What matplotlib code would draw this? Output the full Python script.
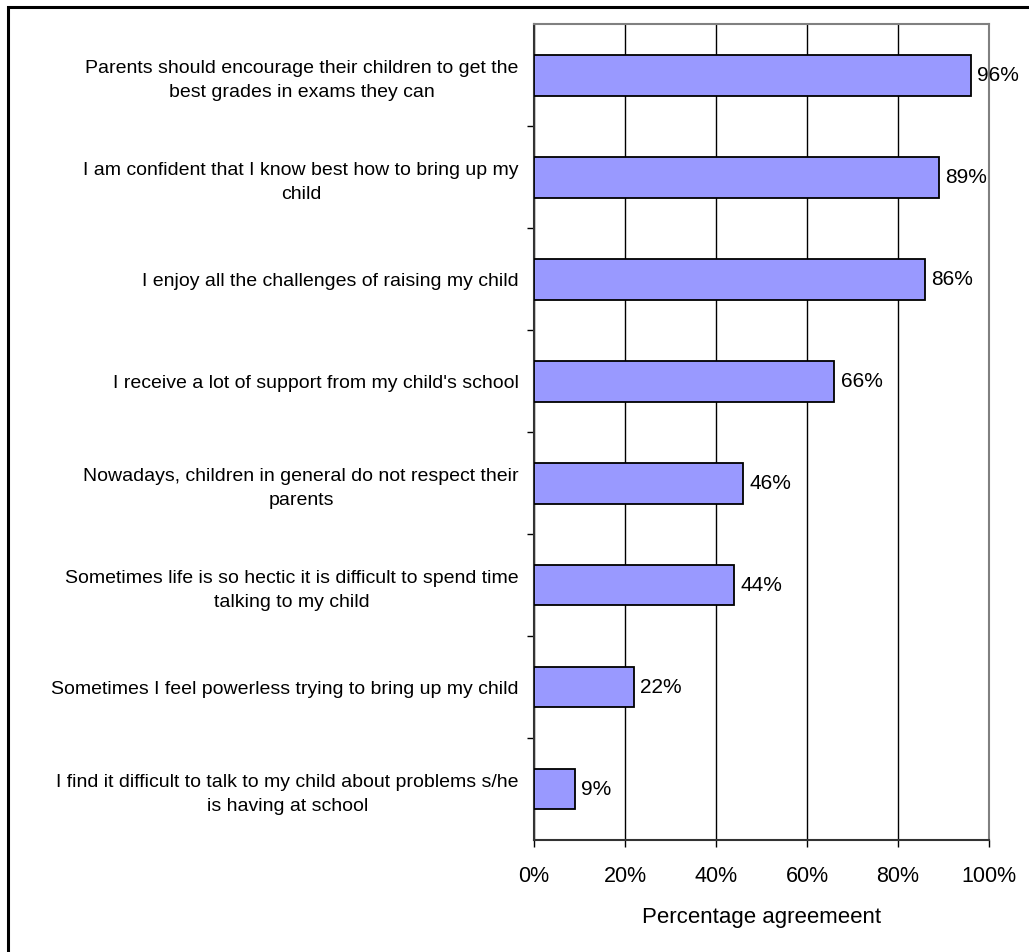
import matplotlib.pyplot as plt
from matplotlib.patches import Rectangle
from matplotlib.ticker import FixedLocator, PercentFormatter

plt.rcParams['font.family'] = ['Liberation Sans', 'DejaVu Sans']

statements = [
    "Parents should encourage their children to get the\nbest grades in exams they can",
    "I am confident that I know best how to bring up my\nchild",
    "I enjoy all the challenges of raising my child",
    "I receive a lot of support from my child's school",
    "Nowadays, children in general do not respect their\nparents",
    "Sometimes life is so hectic it is difficult to spend time\ntalking to my child",
    "Sometimes I feel powerless trying to bring up my child",
    "I find it difficult to talk to my child about problems s/he\nis having at school",
]
agree_pct = [96, 89, 86, 66, 46, 44, 22, 9]

bar_color = '#9999FF'

fig = plt.figure(figsize=(10.29, 9.52), dpi=100)
ax = fig.add_axes([0.519, 0.1176, 0.442, 0.857])

ypos = list(range(len(statements)))
ax.barh(ypos, agree_pct, height=0.4, color=bar_color, edgecolor='black',
        linewidth=1.3, zorder=3)
for y, v in zip(ypos, agree_pct):
    ax.text(v + 1.4, y, f"{v}%", va='center', ha='left', fontsize=15, zorder=4)

ax.set_xlim(0, 100)
ax.set_ylim(len(statements) - 0.5, -0.5)
ax.set_xticks([0, 20, 40, 60, 80, 100])
ax.xaxis.set_major_formatter(PercentFormatter(decimals=0))
ax.tick_params(axis='x', labelsize=15.5, length=5, width=1, direction='out', pad=14)

ax.set_yticks(ypos)
ax.set_yticklabels(statements, fontsize=14, multialignment='center', linespacing=1.5)
ax.tick_params(axis='y', which='major', length=0, pad=11)
ax.yaxis.set_minor_locator(FixedLocator([i + 0.5 for i in range(len(statements) - 1)]))
ax.tick_params(axis='y', which='minor', length=5, width=1, direction='out')

ax.grid(axis='x', color='black', linewidth=1, zorder=0)
ax.set_axisbelow(True)
ax.spines['top'].set_color('#808080')
ax.spines['right'].set_color('#808080')
ax.spines['left'].set_color('#333333')
ax.spines['bottom'].set_color('#333333')
for s in ax.spines.values():
    s.set_linewidth(1.5)

ax.set_xlabel("Percentage agreemeent", fontsize=16, labelpad=14)

# chart frame (runs past the right and bottom edges)
fig.patches.append(Rectangle((8 / 1029, -0.05), 1.2, 1 - 7 / 952 + 0.05,
                             transform=fig.transFigure, fill=False,
                             edgecolor='black', linewidth=2.2))

fig.savefig('out.png', dpi=100)
